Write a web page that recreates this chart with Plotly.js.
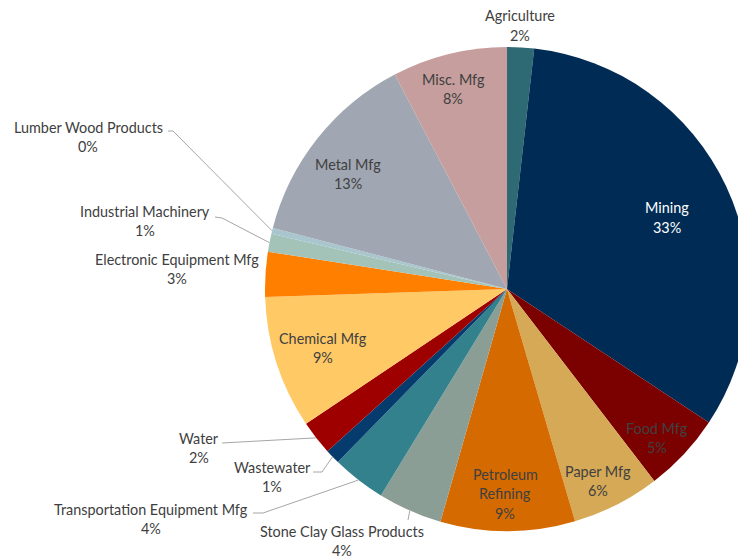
<!DOCTYPE html>
<html>
<head>
<meta charset="utf-8">
<script src="https://cdn.plot.ly/plotly-3.0.1.min.js"></script>
<style>
html, body { margin: 0; padding: 0; overflow: hidden; background: #ffffff; }
#chart { width: 760px; height: 559px; }
</style>
</head>
<body>
<div id="chart"></div>
<script>
// ---- data ----
const categories = ['Agriculture', 'Mining', 'Food Mfg', 'Paper Mfg', 'Petroleum Refining',
  'Stone Clay Glass Products', 'Transportation Equipment Mfg', 'Wastewater', 'Water',
  'Chemical Mfg', 'Electronic Equipment Mfg', 'Industrial Machinery', 'Lumber Wood Products',
  'Metal Mfg', 'Misc. Mfg'];
const shares = [1.8, 32.6, 5.3, 5.9, 9.0, 4.3, 3.6, 1.0, 2.3, 8.9, 3.0, 1.2, 0.4, 13.3, 7.7];
const sliceColors = ['#2D6A73', '#002B55', '#7B0000', '#D5A956', '#D56A00', '#8B9E96', '#33818C',
  '#063B6E', '#9E0000', '#FFC966', '#FF8000', '#A3C2B8', '#A9C6CE', '#A0A7B2', '#C69E9D'];

// ---- label layout (pixel positions of first text line, optional leader elbows, text colour) ----
const labelLayout = [
  { x: 520, y: 15.5 },
  { x: 667, y: 208, color: '#FFFFFF' },
  { x: 657, y: 428 },
  { x: 598, y: 471 },
  { x: 505, y: 474, wrap: true },
  { x: 342, y: 531, leader: [[408, 520]] },
  { x: 151, y: 509, leader: [[253, 513], [263, 513]] },
  { x: 272, y: 467, leader: [[313, 472], [322, 472]] },
  { x: 199, y: 438, leader: [[222, 443]] },
  { x: 323, y: 338 },
  { x: 177, y: 259 },
  { x: 145, y: 211, leader: [[215, 217], [222, 218]] },
  { x: 88, y: 127, leader: [[168, 131], [173, 131]] },
  { x: 348, y: 164 },
  { x: 453, y: 79 }
];

const W = 760, H = 559;
const CX = 507, CY = 289, R = 242;
const M = { l: CX - R, r: W - (CX + R), t: CY - R, b: H - (CY + R), pad: 0 };
const PW = W - M.l - M.r, PH = H - M.t - M.b;
function px2paper(px, py) { return [(px - M.l) / PW, 1 - (py - M.t) / PH]; }

const total = shares.reduce((a, b) => a + b, 0);
const annotations = [];
const shapes = [];
const LINE_H = 19.5;
const FONT_FAMILY = 'Lato, "Open Sans", sans-serif';
const FONT_SIZE = 14.4;

let cum = 0;
shares.forEach((v, i) => {
  const mid = (cum + v / 2) / total * 2 * Math.PI;
  cum += v;
  const L = labelLayout[i];
  const lines = (L.wrap ? categories[i].split(' ') : [categories[i]]);
  lines.push(Math.round(v / total * 100) + '%');
  lines.forEach((t, k) => {
    const p = px2paper(L.x, L.y + k * LINE_H);
    annotations.push({
      xref: 'paper', yref: 'paper', x: p[0], y: p[1],
      xanchor: 'center', yanchor: 'middle', showarrow: false,
      text: t, font: { family: FONT_FAMILY, size: FONT_SIZE, color: L.color || '#404040' }
    });
  });
  if (L.leader) {
    const tip = [CX + R * Math.sin(mid), CY - R * Math.cos(mid)];
    const pts = L.leader.concat([tip]).map(q => px2paper(q[0], q[1]));
    const path = 'M ' + pts.map(q => q[0] + ',' + q[1]).join(' L ');
    shapes.push({
      type: 'path', xref: 'paper', yref: 'paper', path: path,
      line: { color: '#A6A6A6', width: 1 }
    });
  }
});

const trace = {
  type: 'pie',
  labels: categories,
  values: shares,
  sort: false,
  direction: 'clockwise',
  rotation: 0,
  textinfo: 'none',
  hoverinfo: 'label+percent',
  marker: { colors: sliceColors, line: { width: 0 } },
  showlegend: false
};

const layout = {
  width: W, height: H,
  margin: M,
  paper_bgcolor: '#ffffff',
  plot_bgcolor: '#ffffff',
  showlegend: false,
  annotations: annotations,
  shapes: shapes
};

Plotly.newPlot('chart', [trace], layout, { displayModeBar: false, staticPlot: true });
</script>
</body>
</html>
